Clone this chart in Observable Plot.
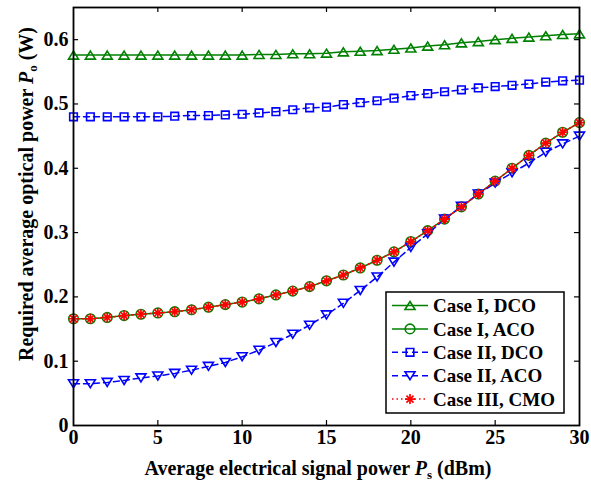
<!DOCTYPE html>
<html>
<head>
<meta charset="utf-8">
<script src="https://cdn.jsdelivr.net/npm/d3@7"></script>
<script src="https://cdn.jsdelivr.net/npm/@observablehq/plot@0.6"></script>
<style>
  html, body { margin: 0; padding: 0; background: #fff; }
  #chart svg { display: block; }
</style>
</head>
<body>
<div id="chart"></div>
<script>
// ---- Data ----
const power = [0,1,2,3,4,5,6,7,8,9,10,11,12,13,14,15,16,17,18,19,20,21,22,23,24,25,26,27,28,29,30];
const caseIDCO = [0.576,0.576,0.576,0.576,0.576,0.576,0.576,0.576,0.576,0.576,0.576,0.577,0.577,0.578,0.578,0.579,0.581,0.582,0.583,0.585,0.587,0.590,0.592,0.595,0.597,0.600,0.602,0.604,0.606,0.608,0.609];
const caseIACO = [0.166,0.166,0.168,0.171,0.173,0.175,0.177,0.180,0.184,0.188,0.192,0.197,0.203,0.209,0.216,0.225,0.234,0.245,0.257,0.270,0.286,0.303,0.321,0.340,0.360,0.380,0.400,0.420,0.439,0.456,0.471];
const caseIIDCO = [0.480,0.480,0.480,0.480,0.480,0.480,0.481,0.482,0.482,0.483,0.484,0.486,0.488,0.491,0.494,0.495,0.499,0.502,0.505,0.509,0.513,0.516,0.519,0.522,0.525,0.527,0.529,0.531,0.534,0.536,0.537];
const caseIIACO = [0.065,0.065,0.067,0.070,0.074,0.077,0.081,0.086,0.092,0.098,0.107,0.117,0.129,0.142,0.156,0.172,0.190,0.210,0.231,0.254,0.277,0.298,0.321,0.341,0.360,0.377,0.393,0.408,0.425,0.438,0.450];
const caseIIICMO = [0.166,0.166,0.168,0.171,0.173,0.175,0.177,0.180,0.184,0.188,0.192,0.197,0.203,0.209,0.216,0.225,0.234,0.245,0.257,0.270,0.286,0.303,0.321,0.340,0.360,0.380,0.400,0.420,0.439,0.456,0.471];
const seriesNames = ["Case I, DCO", "Case I, ACO", "Case II, DCO", "Case II, ACO", "Case III, CMO"];
const xTicks = [0,5,10,15,20,25,30];
const yTicks = [0,0.1,0.2,0.3,0.4,0.5,0.6];
const yTickLabels = ["0","0.1","0.2","0.3","0.4","0.5","0.6"];

// ---- Marker symbols (size = pi r^2 -> r) ----
const rOf = size => Math.sqrt(size / Math.PI);
const triUp = { draw(c, size) { const r = rOf(size), h = r * 0.8; c.moveTo(0, -h); c.lineTo(r, h); c.lineTo(-r, h); c.closePath(); } };
const triDown = { draw(c, size) { const r = rOf(size), h = r * 0.8; c.moveTo(0, h); c.lineTo(r, -h); c.lineTo(-r, -h); c.closePath(); } };
const square = { draw(c, size) { const r = rOf(size); c.moveTo(-r, -r); c.lineTo(r, -r); c.lineTo(r, r); c.lineTo(-r, r); c.closePath(); } };
const circ = { draw(c, size) { const r = rOf(size); c.moveTo(r, 0); c.arc(0, 0, r, 0, 2 * Math.PI); c.closePath(); } };
const star = { draw(c, size) { const r = rOf(size), d = r * Math.SQRT1_2;
  c.moveTo(-r, 0); c.lineTo(r, 0); c.moveTo(0, -r); c.lineTo(0, r);
  c.moveTo(-d, -d); c.lineTo(d, d); c.moveTo(-d, d); c.lineTo(d, -d); } };

const styles = [
  { values: caseIDCO,  color: "#008000", dash: null,  symbol: triUp,   r: 5,   sw: 1.6 },
  { values: caseIACO,  color: "#008000", dash: null,  symbol: circ,    r: 4.8, sw: 1.6 },
  { values: caseIIDCO, color: "#0000ff", dash: "6,4", symbol: square,  r: 3.8, sw: 1.6 },
  { values: caseIIACO, color: "#0000ff", dash: "6,4", symbol: triDown, r: 5,   sw: 1.6 },
  { values: caseIIICMO,color: "#ff0000", dash: "1.5,3", symbol: star,  r: 5,   sw: 1.7 }
];

const FONT = '"Liberation Serif", "Times New Roman", serif';
const marks = [];
styles.forEach((s, i) => {
  const rows = power.map((p, j) => ({ x: p, y: s.values[j], series: seriesNames[i] }));
  marks.push(Plot.line(rows, { x: "x", y: "y", stroke: s.color, strokeWidth: 1.5, strokeDasharray: s.dash }));
  marks.push(Plot.dot(rows, { x: "x", y: "y", symbol: () => s.symbol, r: s.r, stroke: s.color, strokeWidth: s.sw, fill: "none" }));
});

// inward ticks on all four sides
const tx = 0.0078, ty = 0.3;
marks.push(Plot.ruleX(xTicks.slice(1, -1), { y1: 0, y2: tx, stroke: "black", strokeWidth: 1.2 }));
marks.push(Plot.ruleX(xTicks.slice(1, -1), { y1: 0.65, y2: 0.65 - tx, stroke: "black", strokeWidth: 1.2 }));
marks.push(Plot.ruleY(yTicks.slice(1), { x1: 0, x2: ty, stroke: "black", strokeWidth: 1.2 }));
marks.push(Plot.ruleY(yTicks.slice(1), { x1: 30, x2: 30 - ty, stroke: "black", strokeWidth: 1.2 }));
marks.push(Plot.frame({ stroke: "black", strokeWidth: 1.8 }));
marks.push(Plot.axisX({ ticks: xTicks, tickSize: 0, tickPadding: 4, label: null, fontSize: 20, fontWeight: "bold", fontFamily: FONT, tickFormat: d => String(d) }));
marks.push(Plot.axisY({ ticks: yTicks, tickSize: 0, tickPadding: 5, label: null, fontSize: 20, fontWeight: "bold", fontFamily: FONT, tickFormat: d => yTickLabels[yTicks.indexOf(d)] }));

const chart = Plot.plot({
  width: 591, height: 486,
  marginLeft: 73, marginRight: 12, marginTop: 7, marginBottom: 61,
  x: { domain: [0, 30] },
  y: { domain: [0, 0.65] },
  style: { fontFamily: FONT, background: "white" },
  marks
});
document.getElementById("chart").appendChild(chart);

// ---- Axis titles with italic symbol and subscript ----
const svg = d3.select(chart);
function title(sel, main, sym, sub, tail) {
  sel.attr("font-family", FONT).attr("font-weight", "bold").attr("font-size", 20).attr("fill", "black").attr("text-anchor", "middle");
  sel.append("tspan").text(main);
  sel.append("tspan").attr("font-style", "italic").text(sym);
  sel.append("tspan").attr("font-size", 13).attr("dy", 4).text(sub);
  sel.append("tspan").attr("dy", -4).text(tail);
}
title(svg.append("text").attr("x", 318).attr("y", 475), "Average electrical signal power ", "P", "s", " (dBm)");
title(svg.append("text").attr("transform", "translate(33,194) rotate(-90)"), "Required average optical power ", "P", "o", " (W)");

// ---- Legend ----
const lg = svg.append("g");
lg.append("rect").attr("x", 386).attr("y", 292).attr("width", 178).attr("height", 121)
  .attr("fill", "white").attr("stroke", "black").attr("stroke-width", 1.5);
styles.forEach((s, i) => {
  const y = 305.5 + i * 23.4;
  lg.append("line").attr("x1", 392).attr("x2", 428).attr("y1", y).attr("y2", y)
    .attr("stroke", s.color).attr("stroke-width", 1.5).attr("stroke-dasharray", s.dash);
  lg.append("path").attr("transform", `translate(410,${y})`)
    .attr("d", d3.symbol().type(s.symbol).size(Math.PI * s.r * s.r)())
    .attr("fill", "none").attr("stroke", s.color).attr("stroke-width", s.sw);
  lg.append("text").attr("x", 433).attr("y", y).attr("dy", "0.35em").attr("text-anchor", "start")
    .attr("font-family", FONT).attr("font-weight", "bold").attr("font-size", 19).text(seriesNames[i]);
});
</script>
</body>
</html>
